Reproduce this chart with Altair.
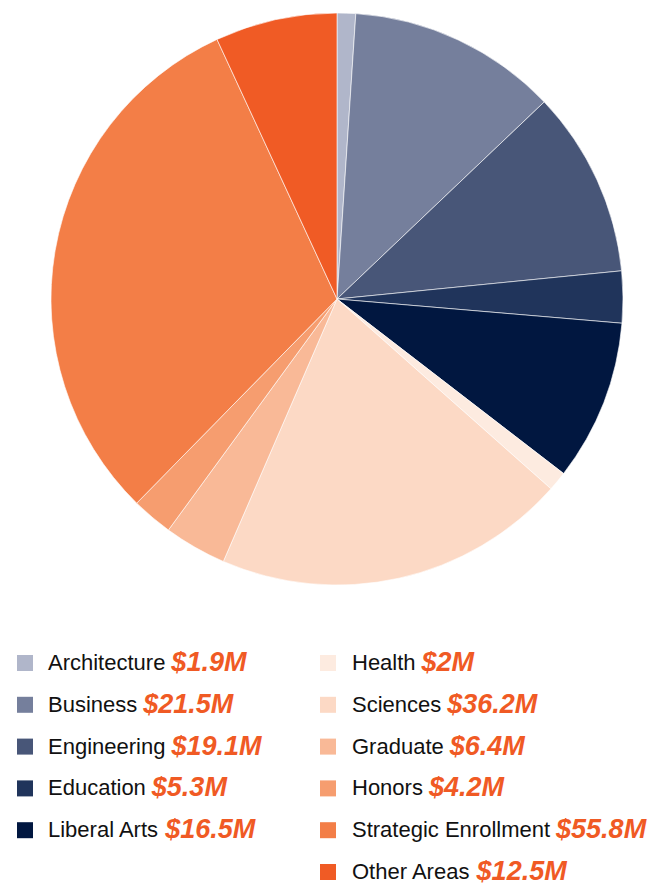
import altair as alt
import pandas as pd

categories = ["Architecture", "Business", "Engineering", "Education", "Liberal Arts",
              "Health", "Sciences", "Graduate", "Honors", "Strategic Enrollment", "Other Areas"]
values = [1.9, 21.5, 19.1, 5.3, 16.5, 2.0, 36.2, 6.4, 4.2, 55.8, 12.5]
colors = ["#b0b6ca", "#757f9c", "#485678", "#20345b", "#011740",
          "#fdebe0", "#fcd9c5", "#f9b997", "#f69d6f", "#f37e47", "#f05b25"]
legend_col = [0, 0, 0, 0, 0, 1, 1, 1, 1, 1, 1]
legend_row = [0, 1, 2, 3, 4, 0, 1, 2, 3, 4, 5]

# layout constants (plot-area pixels; page adds an 8px margin)
W, H = 639, 879
CX, CY, R = 329, 291, 286
SQ_X = [17, 320]
LAB_X = [40, 344]
LAB_FS = 22
VAL_FS = 27
GAP = 6

# Arial / Liberation Sans advance widths (per 1000 em)
CW = {"A": 667, "B": 667, "E": 667, "G": 778, "H": 722, "L": 556, "O": 778, "S": 667,
      "a": 556, "b": 556, "c": 500, "d": 556, "e": 556, "g": 556, "h": 556, "i": 222,
      "l": 222, "m": 833, "n": 556, "o": 556, "r": 333, "s": 500, "t": 278, "u": 556,
      " ": 278}


def text_w(s, fs):
    return sum(CW.get(ch, 556) for ch in s) * fs / 1000.0


rows = []
for i, (c, v) in enumerate(zip(categories, values)):
    col = legend_col[i]
    lx = LAB_X[col]
    rows.append({
        "idx": i, "cat": c, "val": v, "vtxt": f"${v:g}M",
        "row": legend_row[i], "sq_x": SQ_X[col], "lab_x": lx,
        "val_x": lx + text_w(c, LAB_FS) + GAP,
    })
df = pd.DataFrame(rows)

xs = alt.Scale(domain=[0, W], range=[0, W], nice=False, zero=False)
ys = alt.Scale(domain=[0, 5], range=[655, 864], nice=False, zero=False)
cs = alt.Scale(domain=categories, range=colors)

base = alt.Chart(df)

pie = base.mark_arc(stroke="white", strokeWidth=0.6, radius=R).encode(
    theta=alt.Theta("val:Q", stack=True),
    color=alt.Color("cat:N", scale=cs, legend=None),
    order=alt.Order("idx:Q"),
    x=alt.value(CX),
    y=alt.value(CY),
)

sq = base.mark_square(size=256, opacity=1).encode(
    x=alt.X("sq_x:Q", scale=xs, axis=None),
    y=alt.Y("row:Q", scale=ys, axis=None),
    color=alt.Color("cat:N", scale=cs, legend=None),
)

lab = base.mark_text(align="left", baseline="middle", font="Liberation Sans",
                     fontSize=LAB_FS, color="#111111").encode(
    x=alt.X("lab_x:Q", scale=xs, axis=None),
    y=alt.Y("row:Q", scale=ys, axis=None),
    text="cat:N",
)

val = base.mark_text(align="left", baseline="middle", font="Liberation Sans",
                     fontSize=VAL_FS, fontWeight="bold", fontStyle="italic",
                     color="#f05a24").encode(
    x=alt.X("val_x:Q", scale=xs, axis=None),
    y=alt.Y("row:Q", scale=ys, axis=None),
    text="vtxt:N",
)

chart = alt.layer(pie, sq, lab, val).properties(
    width=W, height=H, padding=0,
    autosize=alt.AutoSizeParams(type="none"),
).configure_view(stroke=None)

chart.save("out.html", embed_options={"renderer": "svg", "actions": False})
